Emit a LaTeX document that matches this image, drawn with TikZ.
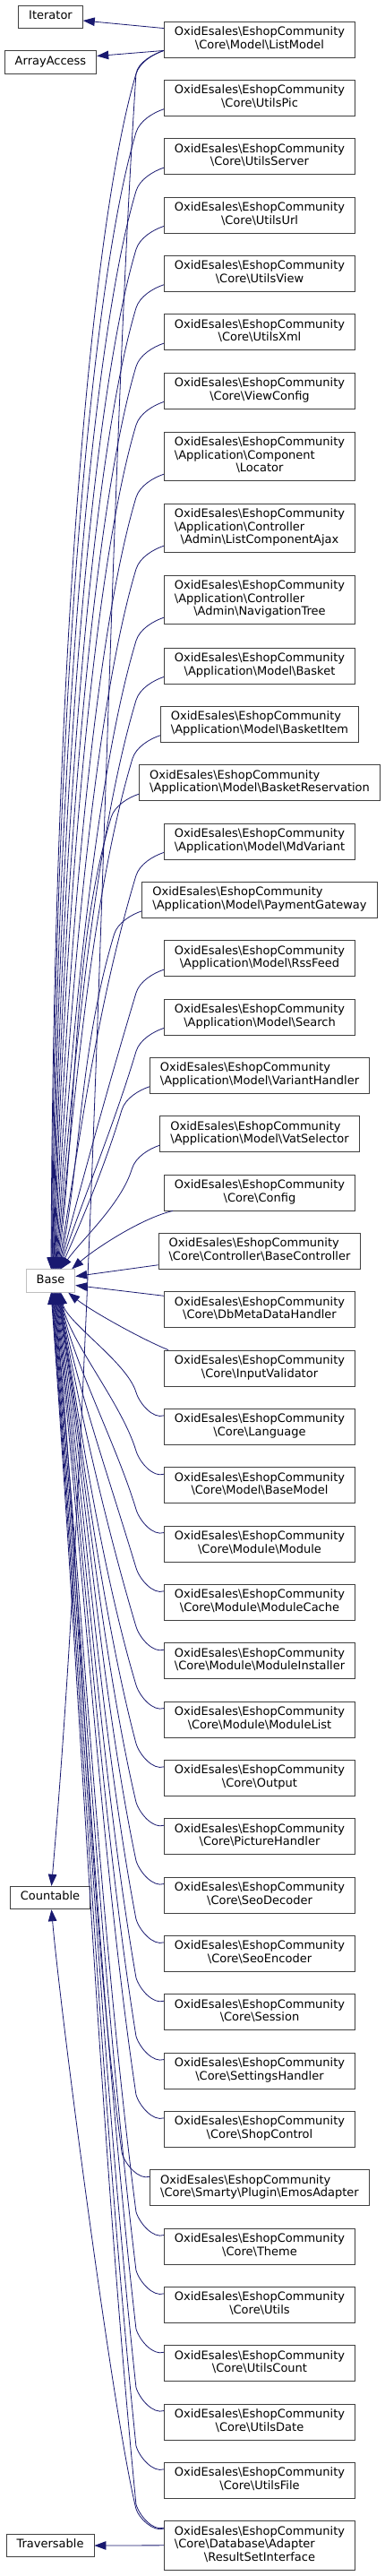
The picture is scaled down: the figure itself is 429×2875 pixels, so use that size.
\documentclass[tikz,border=0pt]{standalone}
\usepackage{fontspec}
\setmainfont{DejaVu Sans}
\usetikzlibrary{arrows.meta,calc}
\definecolor{edgeblue}{RGB}{25,25,112}
\definecolor{boxgrey}{RGB}{64,64,64}
\definecolor{basegrey}{RGB}{191,191,191}
\newcommand\bsl{\textbackslash}
\newcommand\onel[1]{\begin{tabular}{@{}c@{}}#1\end{tabular}}
\newcommand\twol[2]{\begin{tabular}{@{}l@{}}#1\\\multicolumn{1}{@{}c@{}}{#2}\end{tabular}}
\newcommand\threel[3]{\begin{tabular}{@{}l@{}}#1\\#2\\\multicolumn{1}{@{}c@{}}{#3}\end{tabular}}
\newcommand\oxid{OxidEsales\bsl EshopCommunity}
\begin{document}
\begin{tikzpicture}[x=1pt,y=-1pt,
  box/.style={draw=boxgrey, fill=white, line width=0.9pt, inner xsep=11.5pt, inner ysep=5.5pt,
    font=\fontsize{13}{14.5}\selectfont},
  basebox/.style={box, draw=basegrey},
  dep/.style={draw=edgeblue, line width=0.8pt, -{Triangle[length=13pt,width=9.5pt]}}]
\useasboundingbox (0,0) rectangle (429,2875);

% left column
\node[box] (Iter) at (56.5,19) {\onel{Iterator}};
\node[box] (AA) at (56.5,69.5) {\onel{ArrayAccess}};
\node[basebox] (Base) at (56.5,1429.5) {\onel{Base}};
\node[box] (Cnt) at (56,2118) {\onel{Countable}};
\node[box] (Trav) at (56,2841) {\onel{Traversable}};

% right column
\node[box] (n1) at (290,44) {\twol{\oxid}{\bsl Core\bsl Model\bsl ListModel}};
\foreach \nm/\cy/\txt in {n2/109.3/UtilsPic, n3/174.7/UtilsServer, n4/240/UtilsUrl,
  n5/305.3/UtilsView, n6/370.7/UtilsXml, n7/436/ViewConfig}
  {\node[box] (\nm) at (290,\cy) {\twol{\oxid}{\bsl Core\bsl\txt}};}
\node[box] (n8) at (290,509.5) {\threel{\oxid}{\bsl Application\bsl Component}{\bsl Locator}};
\node[box] (n9) at (290,589.5) {\threel{\oxid}{\bsl Application\bsl Controller}{\bsl Admin\bsl ListComponentAjax}};
\node[box] (n10) at (290,669.5) {\threel{\oxid}{\bsl Application\bsl Controller}{\bsl Admin\bsl NavigationTree}};
\foreach \nm/\cy/\txt in {n11/743/Basket, n12/808.3/BasketItem, n13/873.7/BasketReservation,
  n14/939/MdVariant, n15/1004.3/PaymentGateway, n16/1069.7/RssFeed, n17/1135/Search,
  n18/1200.3/VariantHandler, n19/1265.7/VatSelector}
  {\node[box] (\nm) at (290,\cy) {\twol{\oxid}{\bsl Application\bsl Model\bsl\txt}};}
\foreach \nm/\cy/\txt in {n20/1331/Config, n21/1396.3/Controller\bsl BaseController,
  n22/1461.7/DbMetaDataHandler, n23/1527/InputValidator, n24/1592.3/Language,
  n25/1657.7/Model\bsl BaseModel, n26/1723/Module\bsl Module, n27/1788.3/Module\bsl ModuleCache,
  n28/1853.7/Module\bsl ModuleInstaller, n29/1919/Module\bsl ModuleList, n30/1984.3/Output,
  n31/2049.7/PictureHandler, n32/2115/SeoDecoder, n33/2180.3/SeoEncoder, n34/2245.7/Session,
  n35/2311/SettingsHandler, n36/2376.3/ShopControl, n37/2441.7/Smarty\bsl Plugin\bsl EmosAdapter,
  n38/2507/Theme, n39/2572.3/Utils, n40/2637.7/UtilsCount, n41/2703/UtilsDate, n42/2768.3/UtilsFile}
  {\node[box] (\nm) at (290,\cy) {\twol{\oxid}{\bsl Core\bsl\txt}};}
\node[box] (n43) at (290,2840.8) {\threel{\oxid}{\bsl Core\bsl Database\bsl Adapter}{\bsl ResultSetInterface}};

% edges to Iterator / ArrayAccess / Traversable
\draw[dep] ([yshift=-8pt]n1.north west) -- ([yshift=-4pt]Iter.east);
\draw[dep] ([yshift=8pt]n1.south west) -- ([yshift=7pt]AA.east);
\draw[dep] (n43.west) -- (Trav.east);

% upper edges to Base
\foreach \nm/\cy/\hh/\xe in {n1/44/20/57, n2/109.3/20/57.6, n3/174.7/20/58.2, n4/240/20/58.8,
  n5/305.3/20/59.4, n6/370.7/20/60, n7/436/20/60.6, n8/509.5/27.5/61.2, n9/589.5/27.5/61.8,
  n10/669.5/27.5/62.4, n11/743/20/63, n12/808.3/20/63.6, n13/873.7/20/64.2, n14/939/20/64.8,
  n15/1004.3/20/65.4, n16/1069.7/20/66, n17/1135/20/66.6, n18/1200.3/20/67.2, n19/1265.7/20/68}{
  \pgfmathsetmacro\by{\cy+\hh+18}
  \pgfmathsetmacro\D{1417-\by}
  \pgfmathsetmacro\L{min(0.35*\D,150)}
  \pgfmathsetmacro\Lx{0.3*\L}
  \pgfmathsetmacro\g{max(0,min(1,(\D-400)/900))}
  \pgfmathsetmacro\Px{\xe+3+0.25*(150-\xe)*(1-\g)}
  \pgfmathsetmacro\Py{1417-(0.3+0.25*\g)*\D}
  \pgfmathsetmacro\dx{\xe-56.5}
  \draw[dep] ([yshift=8pt]\nm.south west)
    .. controls ($(\nm.south west)+(-12,-4)$) and ($(\nm.south west)+(-27,5)$) .. ($(\nm.south west)+(-31,18)$)
    .. controls ($(\nm.south west)+(-31-\Lx,18+\L)$) and (\Px,\Py) .. ([xshift=\dx pt]Base.north);
}

% direct edges near Base
\draw[dep] ([xshift=10pt]n20.south west) .. controls +(-35,8) and +(25,-22) .. ([xshift=-4pt]Base.north east);
\draw[dep] ([yshift=5pt]n21.south west) -- ([yshift=5pt]Base.east);
\draw[dep] ([yshift=-5pt]n22.north west) -- ([yshift=-5pt]Base.east);
\draw[dep] ([xshift=5pt]n23.north west) .. controls +(-30,-12) and +(25,20) .. ([xshift=-8pt]Base.south east);

% lower edges to Base
\foreach \nm/\cy/\hh/\xe in {n24/1592.3/20/68, n25/1657.7/20/67.4, n26/1723/20/66.8,
  n27/1788.3/20/66.2, n28/1853.7/20/65.6, n29/1919/20/65, n30/1984.3/20/64.4, n31/2049.7/20/63.8,
  n32/2115/20/63.2, n33/2180.3/20/62.6, n34/2245.7/20/62, n35/2311/20/61.4, n36/2376.3/20/60.8,
  n37/2441.7/20/60.2, n38/2507/20/59.6, n39/2572.3/20/59, n40/2637.7/20/58.4, n41/2703/20/57.8,
  n42/2768.3/20/57.4, n43/2840.8/27.5/57}{
  \pgfmathsetmacro\by{\cy-\hh-18}
  \pgfmathsetmacro\D{\by-1442}
  \pgfmathsetmacro\L{0.3*\D}
  \pgfmathsetmacro\Lx{min(40,0.3*\L)}
  \pgfmathsetmacro\Px{\xe+30*min(1,\D/600)}
  \pgfmathsetmacro\Py{1442+0.3*\D}
  \pgfmathsetmacro\dx{\xe-56.5}
  \draw[dep] ([yshift=-8pt]\nm.north west)
    .. controls ($(\nm.north west)+(-12,12)$) and ($(\nm.north west)+(-27,-5)$) .. ($(\nm.north west)+(-31,-18)$)
    .. controls ($(\nm.north west)+(-31-\Lx,-18-\L)$) and (\Px,\Py) .. ([xshift=\dx pt]Base.south);
}

% edges to Countable
\draw[dep] ([yshift=8pt]n1.south west)
  .. controls ($(n1.south west)+(-12,-4)$) and ($(n1.south west)+(-29,5)$) .. ($(n1.south west)+(-31,18)$)
  .. controls (118,600) and (110,1500) .. ([xshift=1.5pt]Cnt.north);
\draw[dep] ([yshift=-9pt]n43.north west)
  .. controls ($(n43.north west)+(-12,13)$) and ($(n43.north west)+(-28,-3)$) .. ($(n43.north west)+(-31,-13)$)
  .. controls (127,2700) and (68,2250) .. ([xshift=1.5pt]Cnt.south);
\end{tikzpicture}
\end{document}
